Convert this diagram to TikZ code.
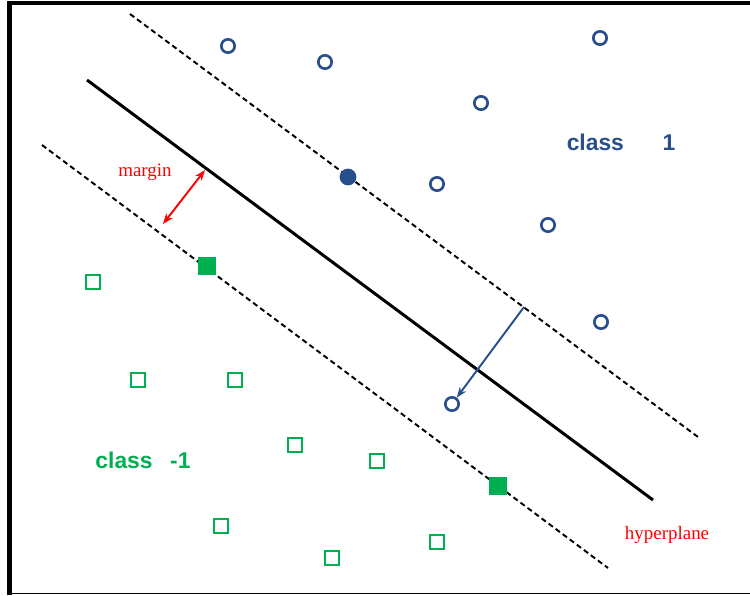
\documentclass[tikz,border=0pt]{standalone}
\usepackage{fontspec}
\usepackage{tikz}
\usetikzlibrary{positioning,arrows.meta}
\newfontfamily\labelsans{Liberation Sans}
\newfontfamily\labelserif{Liberation Serif}
\definecolor{posblue}{RGB}{40,78,140}
\definecolor{neggreen}{RGB}{0,176,80}
\tikzset{
  posdot/.style={circle,draw=posblue,line width=1.5pt,minimum size=7.6pt,inner sep=0pt},
  posfill/.style={posdot,fill=posblue,minimum size=8pt},
  negbox/.style={rectangle,draw=neggreen,line width=1.3pt,minimum size=7.8pt,inner sep=0pt},
  negfill/.style={negbox,fill=neggreen,minimum size=9.2pt},
  marginline/.style={line width=1.1pt,dash pattern=on 3pt off 2pt},
  classlabel/.style={font=\labelsans\bfseries\fontsize{13}{15}\selectfont},
  redlabel/.style={text=red,font=\labelserif\fontsize{10.8}{12}\selectfont}
}
\begin{document}
\begin{tikzpicture}[x=0.02cm,y=-0.02cm]
\useasboundingbox (0,0) rectangle (750,595);
% frame
\draw [line width = 2.8pt] (9.5,595) -- (9.5,3) -- (750,3);
\draw [line width = 1.1pt] (9.5,593.5) -- (750,593.5);
% hyperplane and margins
\coordinate (upA) at (130,14);
\coordinate (upB) at (698,437);
\coordinate (hpA) at (87,80);
\coordinate (hpB) at (653,500);
\coordinate (loA) at (42,145);
\coordinate (loB) at (608,568);
\draw [marginline] (upA) -- (upB);
\draw [line width = 1.7pt] (hpA) -- (hpB);
\draw [marginline] (loA) -- (loB);
% class 1 points
\node[posdot] (p1) at (228,46) {};
\node[posdot] (p2) at (325,62) {};
\node[posdot] (p3) at (600,38) {};
\node[posdot] (p4) at (481,103) {};
\node[posdot] (p5) at (437,184) {};
\node[posdot] (p6) at (548,225) {};
\node[posdot] (p7) at (601,322) {};
\node[posdot] (p8) at (452,404) {};
\node[posfill] (sv1) at (348,177) {};
% class -1 points
\node[negbox] (n1) at (93,282) {};
\node[negbox] (n2) at (138,380) {};
\node[negbox] (n3) at (235,380) {};
\node[negbox] (n4) at (295,445) {};
\node[negbox] (n5) at (377,461) {};
\node[negbox] (n6) at (221,526) {};
\node[negbox] (n7) at (332,558) {};
\node[negbox] (n8) at (437,542) {};
\node[negfill] (sv2) at (207,266) {};
\node[negfill] (sv3) at (498,486) {};
% margin arrow
\coordinate (mgA) at (205,170);
\coordinate (mgB) at (163,224);
\draw [red,line width=1.1pt,{Stealth[length=6pt]}-{Stealth[length=6pt]}] (mgA) -- (mgB);
% misclassified point arrow
\coordinate (erA) at (524,307);
\draw [posblue,line width=1.1pt,-{Stealth[length=6pt]}] (erA) -- (p8);
% labels
\node[classlabel,text=posblue] (cls1) at (621,142) {class\hspace{22pt}1};
\node[classlabel,text=neggreen] (cls2) at (143,460) {class\hspace{10pt}-1};
\node[redlabel] (mglbl) at (145,172) {margin};
\node[redlabel] (hplbl) at (667,535) {hyperplane};
\end{tikzpicture}
\end{document}
